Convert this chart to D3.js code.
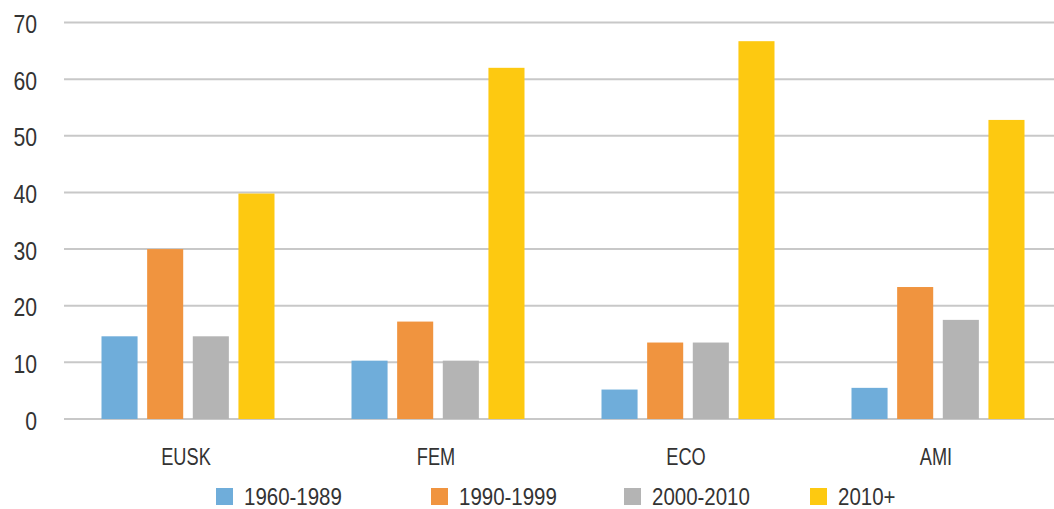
<!DOCTYPE html>
<html><head><meta charset="utf-8">
<script src="https://d3js.org/d3.v7.min.js"></script>
<style>
body{margin:0;background:#fff;}
text{font-family:"Liberation Sans",Arial,sans-serif;fill:#333;}
</style></head>
<body>
<svg id="chart" width="1054" height="509"></svg>
<script>
const categories = ["EUSK","FEM","ECO","AMI"];
const seriesNames = ["1960-1989","1990-1999","2000-2010","2010+"];
const s1960 = [14.6, 10.3, 5.2, 5.5];
const s1990 = [30.0, 17.2, 13.5, 23.3];
const s2000 = [14.6, 10.3, 13.5, 17.5];
const s2010 = [39.8, 62.0, 66.7, 52.8];
const yTicks = [0,10,20,30,40,50,60,70];
const colors = ["#6FADDA","#F0943F","#B4B4B4","#FDC911"];

const seriesValues = [s1960, s1990, s2000, s2010];
const data = categories.map((c,i)=>({cat:c, vals: seriesNames.map((s,j)=>({s, v: seriesValues[j][i], j}))}));

const svg = d3.select("#chart");
const x0 = d3.scaleBand().domain(categories).range([63,1063]).paddingInner(0.308).paddingOuter(0.154);
const x1 = d3.scaleBand().domain(seriesNames).range([0, x0.bandwidth()]).paddingInner(0.21);
const y = d3.scaleLinear().domain([0,70]).range([419,22.5]);

// gridlines
svg.append("g").selectAll("line").data(yTicks).join("line")
  .attr("x1",64).attr("x2",1054)
  .attr("y1",d=>y(d)).attr("y2",d=>y(d))
  .attr("stroke","#C8C8C8").attr("stroke-width",2);

// y labels (condensed look)
svg.append("g").selectAll("text").data(yTicks).join("text")
  .attr("transform",d=>`translate(37,${y(d)+10.5}) scale(0.8,1)`)
  .attr("text-anchor","end").attr("font-size",26.5)
  .text(d=>d);

// bars
const g = svg.append("g").selectAll("g").data(data).join("g")
  .attr("transform",d=>`translate(${x0(d.cat)},0)`);
g.selectAll("rect").data(d=>d.vals).join("rect")
  .attr("x",d=>x1(d.s)).attr("width",x1.bandwidth())
  .attr("y",d=>y(d.v)).attr("height",d=>y(0)-y(d.v))
  .attr("fill",d=>colors[d.j]);

// category labels
svg.append("g").selectAll("text").data(categories).join("text")
  .attr("transform",d=>`translate(${x0(d)+x0.bandwidth()/2-2},465) scale(0.74,1)`)
  .attr("text-anchor","middle").attr("font-size",24.6)
  .text(d=>d);

// legend
const legX = [216,431,624,810];
const leg = svg.append("g").selectAll("g").data(seriesNames).join("g")
  .attr("transform",(d,i)=>`translate(${legX[i]},488)`);
leg.append("rect").attr("width",17).attr("height",17).attr("fill",(d,i)=>colors[i]);
leg.append("text").attr("transform","translate(28,17) scale(0.89,1)").attr("font-size",23).text(d=>d);
</script>
</body></html>
